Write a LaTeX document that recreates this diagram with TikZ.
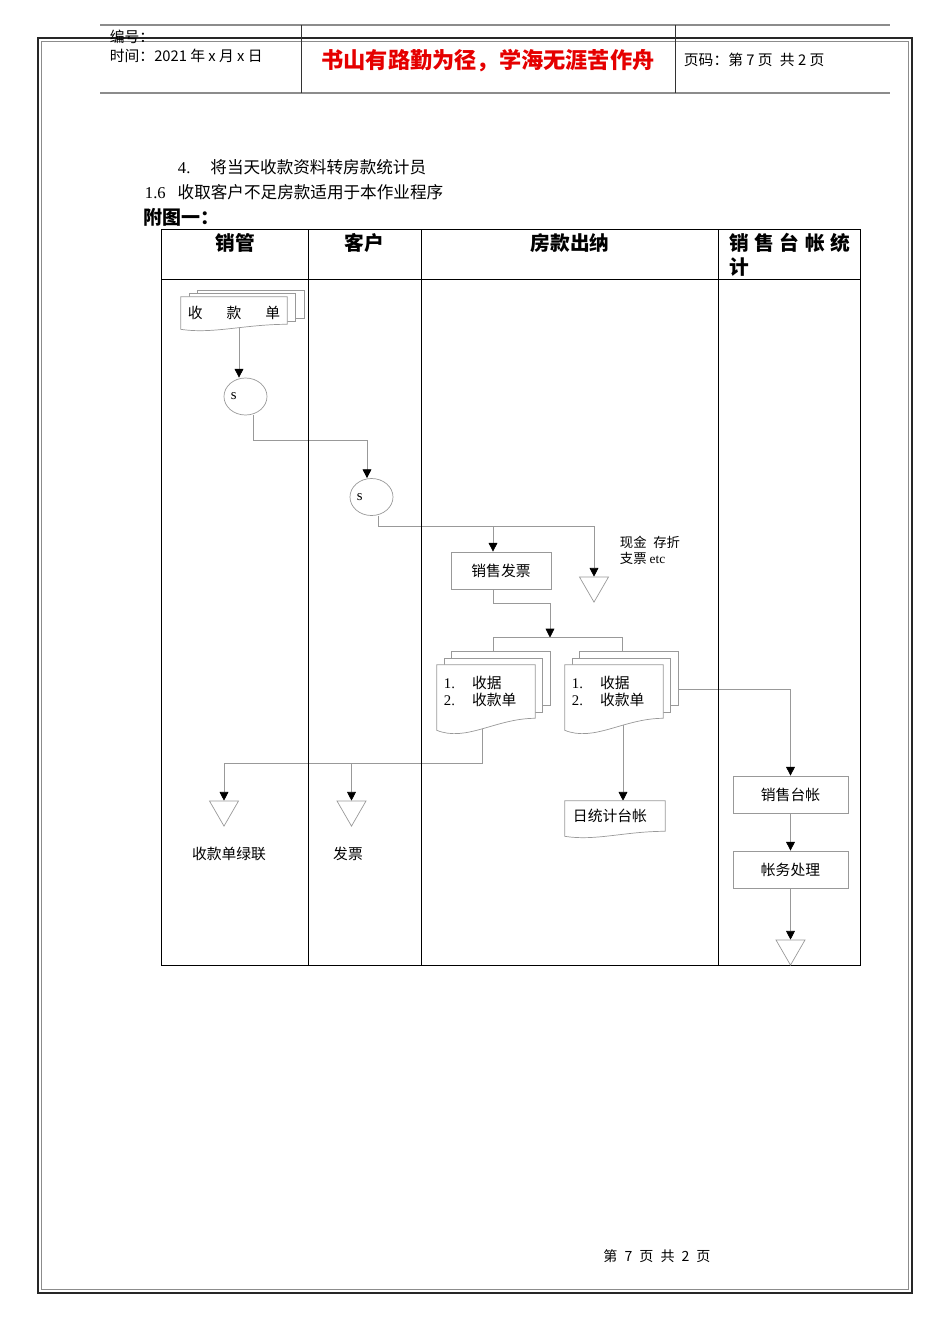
\documentclass[tikz,border=0pt]{standalone}
\usepackage{fontspec}
\setmainfont{Liberation Serif}
\newfontfamily\cjk{Noto Sans CJK SC}
\usepackage{tikz}
\usetikzlibrary{arrows.meta,calc,shapes.geometric,backgrounds}

% document outline: node, wave depth (px)
\newcommand{\docshape}[2]{%
  \draw[flow,fill=white] (#1.south east)
    .. controls ($(#1.south west)!0.6!(#1.south east)$)
    and ($(#1.south west)!0.3!(#1.south east)+(0,2*#2)$) .. ($(#1.south west)+(0,#2)$)
    -- (#1.north west) -- (#1.north east) -- cycle;}
% page behind a document: node, x/y offset (px)
\newcommand{\backpage}[3]{%
  \draw[flow,fill=white] ($(#1.south west)+(#2,#3)$) rectangle ($(#1.north east)+(#2,#3)$);}

\begin{document}
\begin{tikzpicture}[x=0.025cm,y=-0.025cm,font=\cjk\fontsize{10.5}{12.6}\selectfont,
  flow/.style={draw=black!40,line width=0.5pt},
  arr/.style={flow,-{Triangle[length=2.2mm,width=2.2mm,color=black]}},
  box/.style={flow,minimum width=2.5cm,minimum height=0.925cm,inner sep=0pt},
  doc/.style={inner sep=0pt,align=left},
  conn/.style={flow,ellipse,minimum width=1.075cm,minimum height=0.925cm,inner sep=0pt},
  merge/.style={flow,regular polygon,regular polygon sides=3,shape border rotate=180,
    minimum size=0.835cm,inner sep=0pt},
  lane/.style={font=\cjk\bfseries\fontsize{14}{17}\selectfont},
  body/.style={font=\cjk\fontsize{11.8}{14}\selectfont}]
\useasboundingbox (0,0) rectangle (950,1344);
% page frame and header
\draw[black!85,line width=1pt] (38,38) rectangle (912,1293);
\draw[black!45,line width=0.6pt] (41.5,41.5) rectangle (908.5,1289.5);
\draw[black!45,line width=1.2pt] (100,25) -- (890,25) (100,93) -- (890,93);
\draw[black!80,line width=0.5pt] (301,25) -- (301,93) (675,25) -- (675,93);
\node[anchor=west] (serial) at (105,37) {编号：};
\node[anchor=west] (date) at (105,56) {时间：2021 年 x 月 x 日};
\node[red!90!black,font=\cjk\bfseries\fontsize{15.8}{18}\selectfont] (motto) at (488,61)
  {书山有路勤为径，学海无涯苦作舟};
\node[anchor=west] (pageno) at (679,60) {页码：第 7 页\enspace 共 2 页};
% text above the chart
\node[body,anchor=west] (step4) at (173,167) {{\rmfamily 4.}\hspace{5mm}将当天收款资料转房款统计员};
\node[body,anchor=west] (scope16) at (140,192) {{\rmfamily 1.6}\hspace{3mm}收取客户不足房款适用于本作业程序};
\node[anchor=west,font=\cjk\bfseries\fontsize{13.5}{16}\selectfont] (fig1) at (139,217) {附图一：};
% swimlane table
\draw[black,line width=0.6pt] (161,229) rectangle (860,965);
\draw[black,line width=0.6pt] (161,279) -- (860,279)
  (308,229) -- (308,965) (421,229) -- (421,965) (718,229) -- (718,965);
\node[lane] (hsales) at (235,243) {销管};
\node[lane] (hcust) at (364,243) {客户};
\node[lane] (hcash) at (570,243) {房款出纳};
\node[lane,anchor=north west,align=left,inner sep=0pt] (hstat) at (729,233)
  {销\hspace{1.4mm}售\hspace{1.4mm}台\hspace{1.4mm}帐\hspace{1.4mm}统\\计};
% sales lane
\node[doc,minimum width=2.65cm,minimum height=0.675cm,align=center] (rcpt) at (234,310.5)
  {\raisebox{-2.1mm}[0pt][0pt]{收\hspace{6mm}款\hspace{6mm}单}};
\node[conn] (s1) at (245.5,396.5) {\makebox[7.25mm][l]{\rmfamily s}};
\node[merge] (t2) at (224,809.4) {};
\node (lbl2) at (229,854) {收款单绿联};
% customer lane
\node[conn] (s2) at (371.5,497) {\makebox[7.25mm][l]{\rmfamily s}};
\node[merge] (t3) at (351.5,809.4) {};
\node (lbl3) at (348,854) {发票};
% cashier lane
\node[box] (inv) at (501,570.5) {销售发票};
\node[merge] (t1) at (594,585.4) {};
\node[anchor=west,align=left,font=\cjk\fontsize{9.5}{11.4}\selectfont] (cash) at (615,550)
  {现金\enspace 存折\\支票 {\rmfamily etc}};
\coordinate (split) at (550,637.5);
\node[doc,minimum width=2.45cm,minimum height=1.325cm,text width=2.1cm,inner xsep=1.75mm] (d1) at (486,691.5)
  {\makebox[7mm][l]{\rmfamily 1.}收据\\\makebox[7mm][l]{\rmfamily 2.}收款单};
\node[doc,minimum width=2.45cm,minimum height=1.325cm,text width=2.1cm,inner xsep=1.75mm] (d2) at (614,691.5)
  {\makebox[7mm][l]{\rmfamily 1.}收据\\\makebox[7mm][l]{\rmfamily 2.}收款单};
\node[doc,minimum width=2.5cm,minimum height=0.75cm,text width=2.1cm,inner xsep=2mm] (dl) at (615,816)
  {日统计台帐};
% statistics lane
\node[box,minimum width=2.875cm] (led) at (790.5,794.5) {销售台帐};
\node[box,minimum width=2.875cm] (acct) at (790.5,869.5) {帐务处理};
\node[merge] (t4) at (790.5,948.4) {};
% connectors, then document outlines over them
\begin{scope}[on background layer]
\draw[arr] ($(rcpt.south)+(5,0)$) -- ($(s1.north)+(-6.5,0)$);
\draw[arr] ($(s1.south)+(7.5,0)$) |- ($(s2.north)+(-4.5,-38)$) -- ($(s2.north)+(-4.5,0)$);
\draw[arr] ($(s2.south)+(6.5,0)$) |- ($(t1.north)+(0,-50)$) -- (t1.north);
\draw[arr] ($(inv.north)+(-8,-25)$) -- ($(inv.north)+(-8,0)$);
\draw[arr] ($(inv.south)+(-8,0)$) |- ($(split)+(0,-34.5)$) -- (split);
\draw[flow] ($(d1.north)+(7.5,0)$) |- (split) -| ($(d2.north)+(8,0)$);
\draw[arr] ($(d1.south)+(-4,0)$) |- ($(t2.north)+(0,-37)$) -- (t2.north);
\draw[arr] ($(t3.north)+(0,-37)$) -- (t3.north);
\draw[arr] ($(d2.south)+(9,0)$) -- ($(dl.north)+(8,0)$);
\draw[arr] ($(d2.east)+(0,-2.5)$) -| (led.north);
\draw[arr] (led) -- (acct);
\draw[arr] (acct) -- (t4);
\end{scope}
\begin{scope}[on background layer]
\backpage{rcpt}{17}{-6} \backpage{rcpt}{8.5}{-3} \docshape{rcpt}{5}
\backpage{d1}{15}{-13} \backpage{d1}{7.5}{-6} \docshape{d1}{12}
\backpage{d2}{15}{-13} \backpage{d2}{7.5}{-6} \docshape{d2}{12}
\docshape{dl}{5}
\end{scope}
% footer
\node[font=\cjk\fontsize{10}{12}\selectfont] (footer) at (657,1256)
  {第\enspace 7\enspace 页\enspace 共\enspace 2\enspace 页};
\end{tikzpicture}
\end{document}
